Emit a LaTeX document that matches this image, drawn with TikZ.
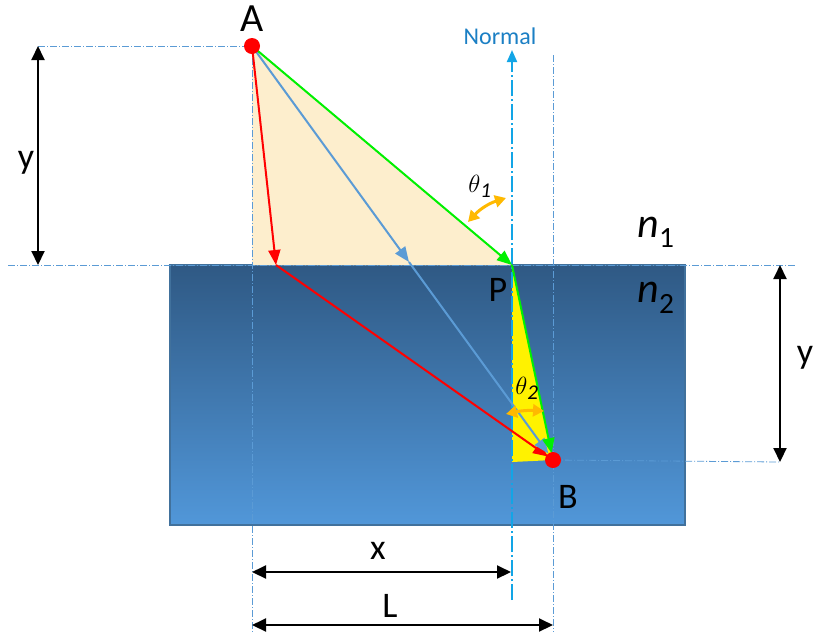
\documentclass[tikz,border=0pt]{standalone}
\usepackage{fontspec}
\setmainfont{Carlito}
\usetikzlibrary{arrows.meta}
\definecolor{water1}{HTML}{2F5984}
\definecolor{water2}{HTML}{5197D9}
\definecolor{waterline}{HTML}{41719C}
\definecolor{guide}{HTML}{5B9BD5}
\definecolor{normalc}{HTML}{12A5E6}
\definecolor{normaltxt}{HTML}{1B7FC4}
\definecolor{sand}{HTML}{FDEECD}
\definecolor{angc}{HTML}{FFB900}
\definecolor{rayblue}{HTML}{5B9BD5}
\definecolor{raygreen}{HTML}{00F000}
\begin{document}
\begin{tikzpicture}[x=1pt,y=-1pt,
    guideline/.style={guide,line width=0.8pt,dash pattern=on 7pt off 2pt on 1pt off 2pt},
    ray/.style={line width=2pt,-{Triangle[length=15pt,width=12pt]}},
    dim/.style={line width=2pt,{Triangle[length=14pt,width=13pt]}-{Triangle[length=14pt,width=13pt]}},
    ang/.style={angc,line width=3pt,{Triangle[length=11pt,width=12pt]}-{Triangle[length=11pt,width=12pt]}},
    lbl/.style={font=\fontsize{36}{38}\selectfont}]
    \useasboundingbox (0,0) rectangle (813,633);
    % points
    \coordinate (A) at (252,46);
    \coordinate (P) at (512,265);
    \coordinate (B) at (553,460);
    \coordinate (Q) at (276,265);
    \coordinate (S) at (409,262);
    \coordinate (F) at (252,265);
    \coordinate (G) at (512,462);
    % medium
    \shade[top color=water1,bottom color=water2] (170,265) rectangle (685,525);
    \draw[waterline,line width=2pt] (170,265) rectangle (685,525);
    \fill[sand] (A) -- (F) -- (P) -- cycle;
    \fill[yellow] (P) -- (G) -- (B) -- cycle;
    % guide lines
    \draw[guideline] (38,46) -- (A);
    \draw[guideline] (8,265) -- (795,265);
    \draw[guideline] (B) -- (780,462);
    \draw[guideline] (A) -- (252,632);
    \draw[guideline] (553,55) -- (553,632);
    \draw[normalc,line width=2pt,dash pattern=on 16pt off 3pt on 2pt off 3pt,-{Triangle[length=12pt,width=10pt]}] (512,600) -- (512,50);
    \node[normaltxt,font=\fontsize{24}{26}\selectfont] (normal) at (500,36) {Normal};
    % rays
    \draw[ray,red] (A) -- (Q);
    \draw[ray,red,shorten >=6pt] (Q) -- (B);
    \draw[ray,rayblue] (A) -- (S);
    \draw[ray,rayblue,shorten >=8pt] (S) -- (B);
    \draw[ray,raygreen] (A) -- (P);
    \draw[ray,raygreen,shorten >=7pt] (P) -- (B);
    \fill[red] (A) circle (8);
    \fill[red] (B) circle (8);
    % angles
    \draw[ang] (468,222) to[bend left=15] (506,198);
    \draw[ang] (506,414) to[bend left=8] (544,411);
    \node[font=\fontsize{30}{32}\selectfont\itshape] (t1) at (480,186) {$\theta$\textsubscript{\itshape 1}};
    \node[font=\fontsize{30}{32}\selectfont\itshape] (t2) at (527,388) {$\theta$\textsubscript{\itshape 2}};
    % labels
    \node[font=\fontsize{40}{42}\selectfont] (lA) at (252,19) {A};
    \node[lbl] (lP) at (498,290) {P};
    \node[lbl] (lB) at (568,497) {B};
    \node[font=\fontsize{42}{44}\selectfont] (n1) at (656,232) {\textit{n}\textsubscript{1}};
    \node[font=\fontsize{42}{44}\selectfont] (n2) at (656,298) {\textit{n}\textsubscript{2}};
    % dimensions
    \coordinate (y1) at (38,46);
    \coordinate (y2) at (38,265);
    \coordinate (y3) at (780,265);
    \coordinate (y4) at (780,462);
    \coordinate (x1) at (252,572);
    \coordinate (x2) at (511,572);
    \coordinate (L1) at (252,625);
    \coordinate (L2) at (553,625);
    \draw[dim] (y1) -- (y2);
    \draw[dim] (y3) -- (y4);
    \draw[dim] (x1) -- (x2);
    \draw[dim] (L1) -- (L2);
    \node[lbl] (ly1) at (26,163) {y};
    \node[lbl] (ly2) at (805,358) {y};
    \node[lbl] (lx) at (378,551) {x};
    \node[lbl] (lL) at (390,606) {L};
\end{tikzpicture}
\end{document}
